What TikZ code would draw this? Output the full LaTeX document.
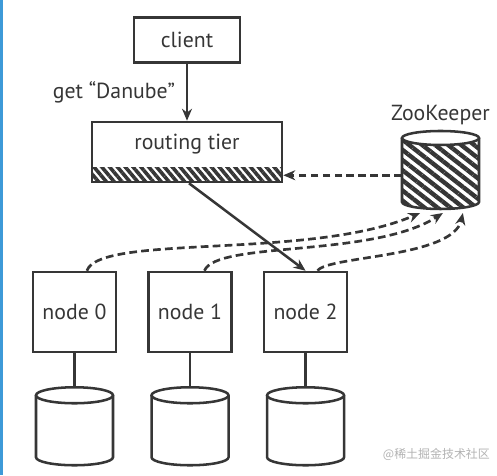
\documentclass[tikz,border=0pt]{standalone}
\usepackage{fontspec}
\setmainfont{PT Sans}
\newfontfamily\cjkfont{Noto Sans CJK SC}
\usetikzlibrary{positioning,arrows.meta,patterns.meta}
\definecolor{ink}{HTML}{363636}
\definecolor{winblue}{HTML}{3D9AD8}

% drum: node name, x radius, y radius, body fill
\newcommand\drum[4]{%
  \draw[ink, line width=1.8pt, #4] ([yshift=-#3]#1.north west) -- ([yshift=#3]#1.south west)
    arc[start angle=180, end angle=360, x radius=#2, y radius=#3]
    -- ([yshift=-#3]#1.north east);
  \draw[ink, line width=1.8pt, fill=white] ([yshift=-#3]#1.north) ellipse[x radius=#2, y radius=#3];
}

\begin{document}
\begin{tikzpicture}[font=\fontsize{15.5}{18}\selectfont, text=ink,
    box/.style={draw=ink, line width=1.8pt, inner sep=0},
    server/.style={box, minimum width=2.075cm, minimum height=2cm},
    drumbox/.style={minimum width=1.925cm, minimum height=1.95cm, inner sep=0, outer sep=0},
    solidarrow/.style={ink, line width=1.8pt, -{Stealth[length=0.3cm, width=0.25cm]}},
    dasharrow/.style={ink, line width=1.9pt, dash pattern=on 5.5pt off 3pt, -{Stealth[length=0.3cm, width=0.25cm]}}]

  \useasboundingbox (0,0) rectangle (12.425,11.875);
  \fill[winblue] (0,0) rectangle (0.07,11.875);

  \node[box, minimum width=4.75cm, minimum height=1.5cm, text height=0.35cm, text depth=0.45cm,
    path picture={\fill[pattern={Lines[angle=-50, distance=0.15cm, line width=0.09cm]}, pattern color=ink]
      (path picture bounding box.south west) rectangle ([yshift=0.35cm]path picture bounding box.south east);}]
    (rt) at (4.675,8.075) {routing tier};
  \node[box, minimum width=2.65cm, minimum height=1.125cm, above=1.425cm of rt] (client) {client};
  \coordinate (rtbar) at ([yshift=0.2cm]rt.south east);

  \node[drumbox] (zk) at (11.0125,7.625) {};
  \drum{zk}{0.9625cm}{0.175cm}{pattern={Lines[angle=-38, distance=0.2cm, line width=0.11cm]}, pattern color=ink}
  \node[inner sep=0, above=0.15cm of zk] (zklabel) {ZooKeeper};

  \node[server] (n0) at (1.8625,4.075) {node 0};
  \node[server, right=0.75cm of n0] (n1) {node 1};
  \node[server, right=0.75cm of n1] (n2) {node 2};

  \foreach \i in {0,1,2} {
    \node[drumbox, below=0.85cm of n\i] (db\i) {};
    \drum{db\i}{0.9625cm}{0.2cm}{fill=white}
    \draw[ink, line width=1.8pt] (n\i.south) -- (db\i.north);
  }

  \draw[solidarrow] (client) -- node[midway, left=0.27cm, inner sep=0] (query) {get “Danube”} (rt);
  \draw[solidarrow] ([xshift=0.05cm]rt.south) -- (n2.north);
  \draw[dasharrow] (zk.west |- rtbar) -- (rtbar);

  \draw[dasharrow] ([xshift=0.31cm]n0.north) .. controls +(0.325,0.925) and +(-2.75,-1.175) .. ([shift={(-0.51cm,-0.1cm)}]zk.south);
  \draw[dasharrow] ([xshift=0.36cm]n1.north) .. controls +(0.3,0.75) and +(-1.75,-1.125) .. ([shift={(0.06cm,-0.1cm)}]zk.south);
  \draw[dasharrow] ([xshift=0.3cm]n2.north) .. controls +(0.25,0.375) and +(-0.25,-1.125) .. ([shift={(0.56cm,-0.1cm)}]zk.south);

  \node[font=\cjkfont\fontsize{8.5}{10}\selectfont, text=black!30] (mark) at (10.91,0.51) {@稀土掘金技术社区};

\end{tikzpicture}
\end{document}
